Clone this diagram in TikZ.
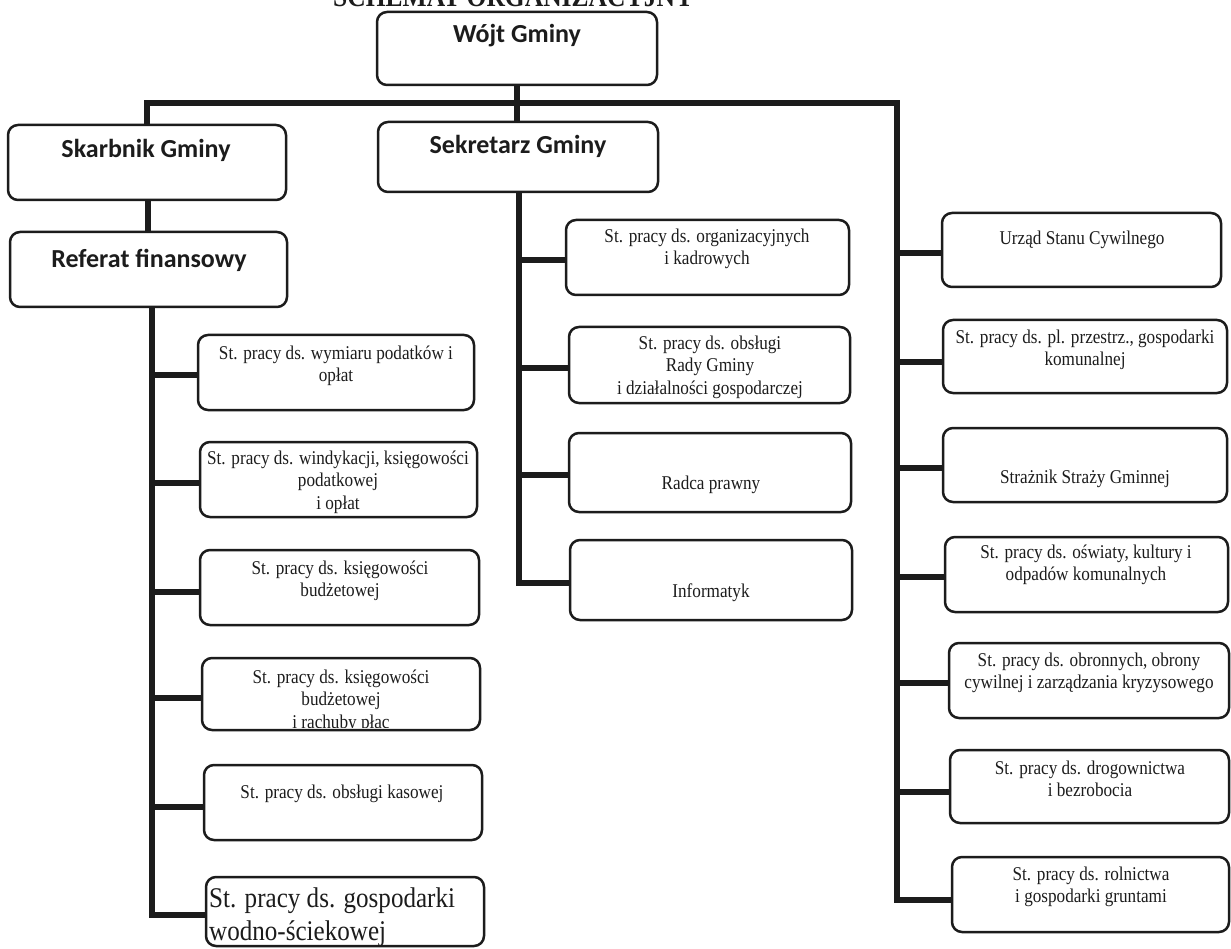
\documentclass[tikz,border=0pt]{standalone}
\usepackage{fontspec}
\setmainfont{Liberation Serif}
\newfontfamily\condserif[FakeStretch=0.88]{Liberation Serif}
\newfontfamily\calfont{Carlito}
\definecolor{ink}{HTML}{1C1C1C}
\tikzset{
  box/.style={draw=ink, line width=2.5pt, rounded corners=10pt, fill=white, inner sep=0pt},
  conn/.style={draw=ink, line width=6pt, line join=miter},
  bigtxt/.style={font=\calfont\bfseries\fontsize{26}{30}\selectfont, text=ink, inner sep=0pt},
  smalltxt/.style={font=\condserif\fontsize{19.5}{22.5}\selectfont, text=ink, align=center, inner sep=0pt},
  largetxt/.style={font=\condserif\fontsize{28.5}{33}\selectfont, text=ink, align=left, inner sep=0pt},
}
\newcommand\mybox[5]{\node[box, minimum width=#4pt-#2pt, minimum height=#5pt-#3pt] (#1) at ({(#2+#4)/2},{(#3+#5)/2}) {};}
\begin{document}
\begin{tikzpicture}[x=1pt,y=-1pt]
\useasboundingbox (0,0) rectangle (1231,949);
\clip (0,0) rectangle (1231,949);
\fill[white] (0,0) rectangle (1231,949);

% title (cut by the top edge, as in the scan)
\node[font=\condserif\bfseries\fontsize{29}{30}\selectfont, text=ink, anchor=base west, inner sep=0pt] (title) at (333,7) {SCHEMAT ORGANIZACYJNY};

% connector coordinates
\coordinate (hR) at (897,103);
\coordinate (rbot) at (897,900);
\coordinate (mtop) at (519,192);
\coordinate (mbot) at (519,583);
\coordinate (ltop) at (152,307);
\coordinate (lbot) at (152,915);

% boxes (invisible first pass to get anchors)
\begin{scope}[box/.append style={draw=none, fill=none}]
\mybox{wojt}{377}{12}{657}{85}
\mybox{skarbnik}{8}{125}{286}{200}
\mybox{sekretarz}{378}{122}{658}{192}
\mybox{referat}{10}{232}{287}{307}
\mybox{l1}{198}{335}{474}{410}
\mybox{l2}{200}{442}{477}{517}
\mybox{l3}{200}{550}{479}{625}
\mybox{l4}{202}{658}{480}{730}
\mybox{l5}{204}{765}{482}{840}
\mybox{l6}{206}{877}{484}{946}
\mybox{m1}{566}{220}{849}{295}
\mybox{m2}{569}{327}{850}{403}
\mybox{m3}{569}{433}{851}{512}
\mybox{m4}{570}{540}{852}{620}
\mybox{r1}{942}{213}{1221}{287}
\mybox{r2}{943}{320}{1227}{393}
\mybox{r3}{943}{428}{1227}{502}
\mybox{r4}{945}{537}{1228}{612}
\mybox{r5}{949}{643}{1229}{718}
\mybox{r6}{950}{750}{1229}{823}
\mybox{r7}{952}{857}{1229}{932}
\end{scope}

% connectors
\draw[conn] (skarbnik.north -| 147,0) |- (hR) -- (rbot) -- (rbot -| r7.west);
\draw[conn] (wojt.south) -- (wojt.south |- sekretarz.north);
\draw[conn] (skarbnik.south -| 148,0) -- (referat.north -| 148,0);
\draw[conn] (mtop) -- (mbot) -- (mbot -| m4.west);
\draw[conn] (ltop) -- (lbot) -- (lbot -| l6.west);
\foreach \b/\y in {m1/260, m2/368, m3/475}{
  \draw[conn] (mtop |- 0,\y) -- (\b.west |- 0,\y);
}
\foreach \b/\y in {l1/375, l2/483, l3/592, l4/698, l5/807}{
  \draw[conn] (ltop |- 0,\y) -- (\b.west |- 0,\y);
}
\foreach \b/\y in {r1/253, r2/362, r3/468, r4/577, r5/683, r6/792}{
  \draw[conn] (hR |- 0,\y) -- (\b.west |- 0,\y);
}

% visible boxes
\mybox{wojtB}{377}{12}{657}{85}
\mybox{skarbnikB}{8}{125}{286}{200}
\mybox{sekretarzB}{378}{122}{658}{192}
\mybox{referatB}{10}{232}{287}{307}
\mybox{l1B}{198}{335}{474}{410}
\mybox{l2B}{200}{442}{477}{517}
\mybox{l3B}{200}{550}{479}{625}
\mybox{l4B}{202}{658}{480}{730}
\mybox{l5B}{204}{765}{482}{840}
\mybox{l6B}{206}{877}{484}{946}
\mybox{m1B}{566}{220}{849}{295}
\mybox{m2B}{569}{327}{850}{403}
\mybox{m3B}{569}{433}{851}{512}
\mybox{m4B}{570}{540}{852}{620}
\mybox{r1B}{942}{213}{1221}{287}
\mybox{r2B}{943}{320}{1227}{393}
\mybox{r3B}{943}{428}{1227}{502}
\mybox{r4B}{945}{537}{1228}{612}
\mybox{r5B}{949}{643}{1229}{718}
\mybox{r6B}{950}{750}{1229}{823}
\mybox{r7B}{952}{857}{1229}{932}

% texts
\node[bigtxt] (wojtT) at (517,36) {Wójt Gminy};
\node[bigtxt] (skarbnikT) at (146,150) {Skarbnik Gminy};
\node[bigtxt] (sekretarzT) at (518,146) {Sekretarz Gminy};
\node[bigtxt] (referatT) at (149,260) {Referat finansowy};

\node[smalltxt] (l1T) at (336,366) {St. pracy ds. wymiaru podatków i\\opłat};
\node[smalltxt] (l2T) at (338,482) {St. pracy ds. windykacji, księgowości\\podatkowej\\i opłat};
\node[smalltxt] (l3T) at (340,581) {St. pracy ds. księgowości\\budżetowej};
\begin{scope}
  \clip (202,658) rectangle (480,727);
  \node[smalltxt] (l4T) at (341,701) {St. pracy ds. księgowości\\budżetowej\\i rachuby płac};
\end{scope}
\node[smalltxt] (l5T) at (342,794) {St. pracy ds. obsługi kasowej};
\begin{scope}
  \clip (200,870) rectangle (490,945);
  \node[largetxt, anchor=north west] (l6T) at (209,888) {St. pracy ds. gospodarki\\wodno-ściekowej};
\end{scope}

\node[smalltxt] (m1T) at (707,249) {St. pracy ds. organizacyjnych\\i kadrowych};
\node[smalltxt] (m2T) at (710,367) {St. pracy ds. obsługi\\Rady Gminy\\i działalności gospodarczej};
\node[smalltxt] (m3T) at (711,485) {Radca prawny};
\node[smalltxt] (m4T) at (711,593) {Informatyk};

\node[smalltxt] (r1T) at (1082,240) {Urząd Stanu Cywilnego};
\node[smalltxt] (r2T) at (1085,350) {St. pracy ds. pl. przestrz., gospodarki\\komunalnej};
\node[smalltxt] (r3T) at (1085,479) {Strażnik Straży Gminnej};
\node[smalltxt] (r4T) at (1086,565) {St. pracy ds. oświaty, kultury i\\odpadów komunalnych};
\node[smalltxt] (r5T) at (1089,673) {St. pracy ds. obronnych, obrony\\cywilnej i zarządzania kryzysowego};
\node[smalltxt] (r6T) at (1090,779) {St. pracy ds. drogownictwa\\i bezrobocia};
\node[smalltxt] (r7T) at (1091,887) {St. pracy ds. rolnictwa\\i gospodarki gruntami};
\end{tikzpicture}
\end{document}
